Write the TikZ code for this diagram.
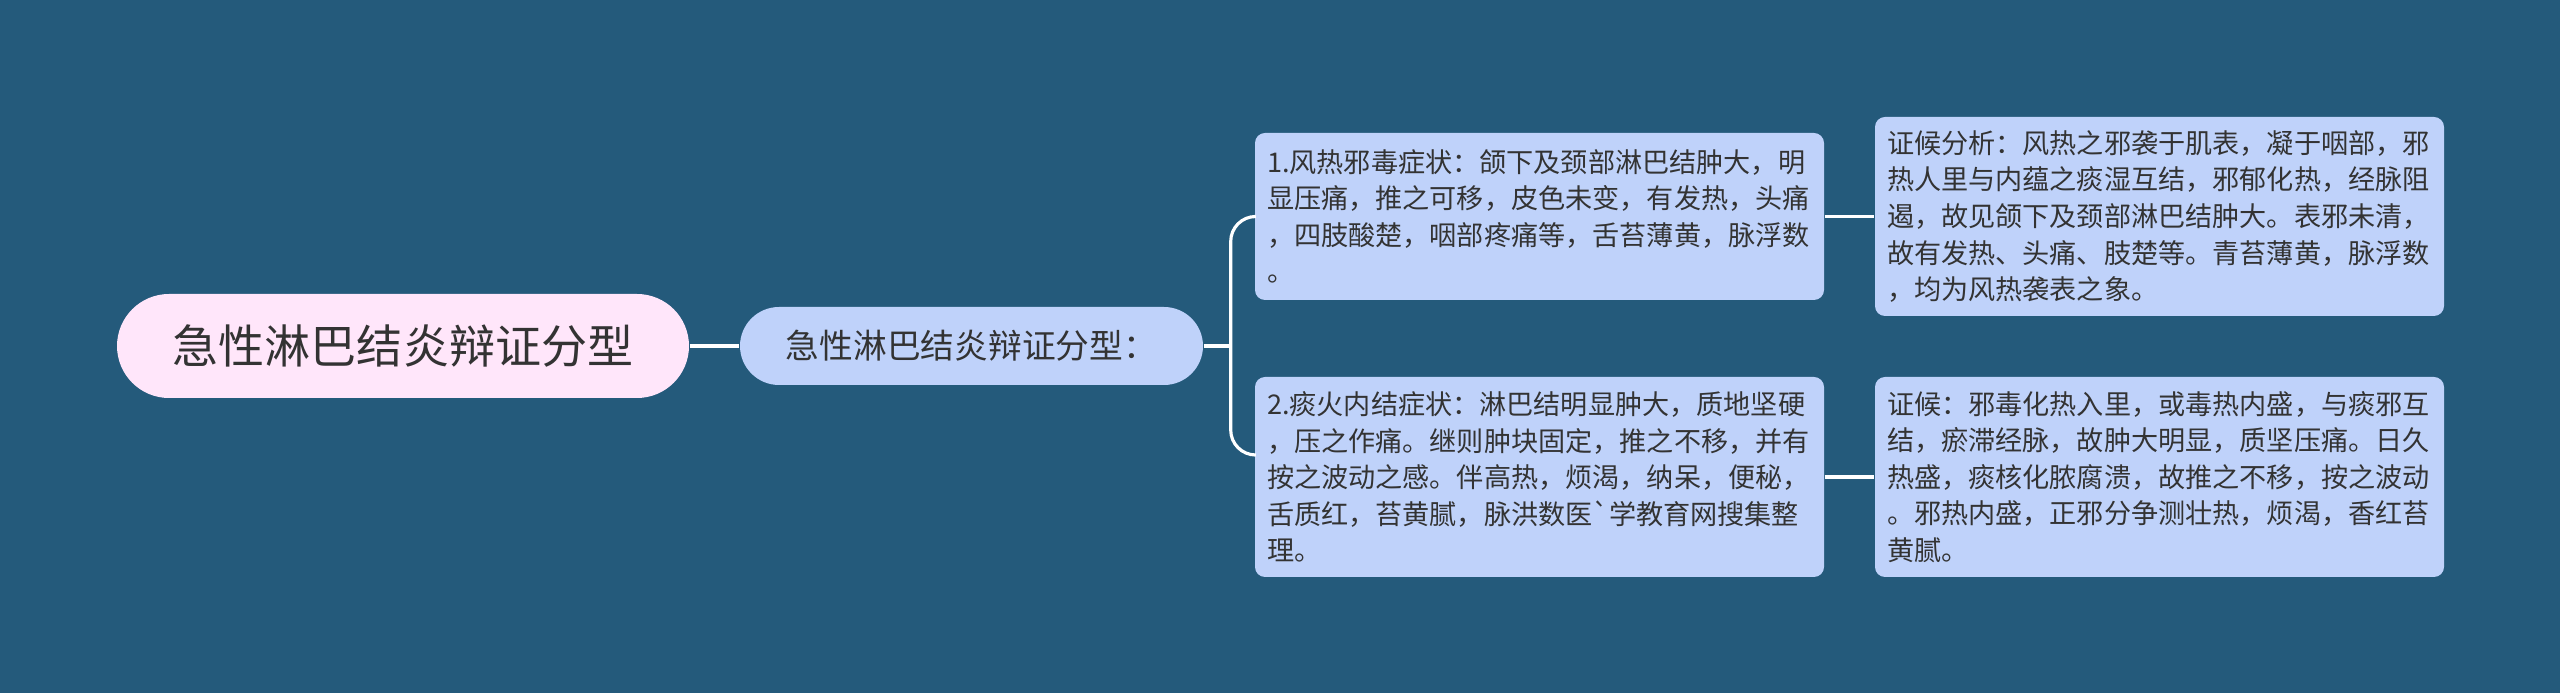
\documentclass[tikz,border=0pt]{standalone}
\usepackage{fontspec}
\newfontfamily\cjk{Noto Sans CJK SC}
\definecolor{bgblue}{HTML}{245A7B}
\definecolor{rootpink}{HTML}{FFE6FA}
\definecolor{leafblue}{HTML}{BFD2FA}
\definecolor{inkgray}{HTML}{333333}

\begin{document}
\begin{tikzpicture}[
    rootbox/.style={rounded corners=0.52cm, fill=rootpink, text=inkgray, minimum width=5.72cm, minimum height=1.04cm, font=\cjk\fontsize{13.1}{15}\selectfont},
    midbox/.style={rounded corners=0.39cm, fill=leafblue, text=inkgray, minimum width=4.63cm, minimum height=0.78cm, font=\cjk\fontsize{9.6}{12}\selectfont},
    leafbox/.style={rounded corners=0.1cm, fill=leafblue, text=inkgray, text width=5.45cm, inner xsep=0.12cm, align=left, font=\cjk\fontsize{7.72}{10.4}\selectfont},
    link/.style={draw=white, line width=0.9pt}
  ]
    % 背景
    \fill[bgblue] (0, 0) rectangle (25.6, 6.93);
    \useasboundingbox (0, 0) rectangle (25.6, 6.93);

    % ノード
    \node[rootbox] (root) at (4.03, 3.47) {急性淋巴结炎辩证分型};
    \node[midbox] (mid) at (9.715, 3.47) {急性淋巴结炎辩证分型：};
    \node[leafbox, minimum height=1.67cm] (s1) at (15.395, 4.765) {1.风热邪毒症状：颌下及颈部淋巴结肿大，明\\显压痛，推之可移，皮色未变，有发热，头痛\\，四肢酸楚，咽部疼痛等，舌苔薄黄，脉浮数\\。};
    \node[leafbox, minimum height=2.0cm] (s2) at (15.395, 2.16) {2.痰火内结症状：淋巴结明显肿大，质地坚硬\\，压之作痛。继则肿块固定，推之不移，并有\\按之波动之感。伴高热，烦渴，纳呆，便秘，\\舌质红，苔黄腻，脉洪数医\textasciigrave 学教育网搜集整\\理。};
    \node[leafbox, minimum height=1.99cm] (a1) at (21.595, 4.765) {证候分析：风热之邪袭于肌表，凝于咽部，邪\\热人里与内蕴之痰湿互结，邪郁化热，经脉阻\\遏，故见颌下及颈部淋巴结肿大。表邪未清，\\故有发热、头痛、肢楚等。青苔薄黄，脉浮数\\，均为风热袭表之象。};
    \node[leafbox, minimum height=2.0cm] (a2) at (21.595, 2.16) {证候：邪毒化热入里，或毒热内盛，与痰邪互\\结，瘀滞经脉，故肿大明显，质坚压痛。日久\\热盛，痰核化脓腐溃，故推之不移，按之波动\\。邪热内盛，正邪分争测壮热，烦渴，香红苔\\黄腻。};

    % 線を引く
    \coordinate (fork) at ([xshift=0.27cm]mid.east);
    \draw[link] (root) -- (mid);
    \draw[link] (mid) -- (fork);
    \draw[link, rounded corners=0.25cm] (s1.west) -| (fork) |- ([yshift=0.22cm]s2.west);
    \draw[link] (s1) -- (a1);
    \draw[link] (s2) -- (a2);
  \end{tikzpicture}
\end{document}
